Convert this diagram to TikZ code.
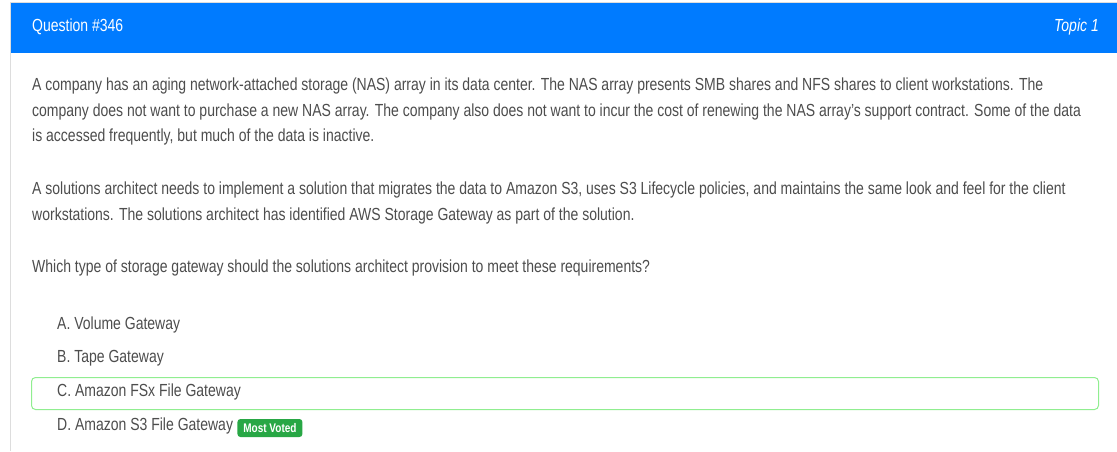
\documentclass[tikz,border=0pt]{standalone}
\usepackage{fontspec}
\setmainfont{Liberation Sans}[FakeStretch=0.80]
\definecolor{hdrblue}{HTML}{007BFF}
\definecolor{txt}{HTML}{4D4D4D}
\definecolor{cardline}{HTML}{DDDDDD}
\definecolor{okgreen}{HTML}{90EE90}
\definecolor{badgegreen}{HTML}{28A745}
\begin{document}
\begin{tikzpicture}[x=1pt,y=-1pt,
  body/.style={anchor=west,inner sep=0pt,text=txt,font=\fontsize{17.5}{18}\selectfont},
  hdr/.style={inner sep=0pt,text=white,font=\fontsize{17.5}{18}\selectfont}]
\useasboundingbox (0,0) rectangle (1117,451);
\fill[white] (0,0) rectangle (1117,451);
% card
\draw[cardline,line width=1pt] (10.5,451) -- (10.5,2.5) -- (1117,2.5);
\fill[hdrblue] (11,3) rectangle (1117,53);
\node[hdr,anchor=west] (q) at (32,27) {Question \#346};
\node[hdr,anchor=east,font=\fontsize{17.5}{18}\selectfont\itshape] (t) at (1099,27) {Topic 1};
% text
\node[body] (l1) at (32,86) {A company has an aging network-attached storage (NAS) array in its data center. The NAS array presents SMB shares and NFS shares to client workstations. The};
\node[body] (l2) at (32,112) {company does not want to purchase a new NAS array. The company also does not want to incur the cost of renewing the NAS array’s support contract. Some of the data};
\node[body] (l3) at (32,137) {is accessed frequently, but much of the data is inactive.};
\node[body] (l4) at (32,190) {A solutions architect needs to implement a solution that migrates the data to Amazon S3, uses S3 Lifecycle policies, and maintains the same look and feel for the client};
\node[body] (l5) at (32,216) {workstations. The solutions architect has identified AWS Storage Gateway as part of the solution.};
\node[body] (l6) at (32,268) {Which type of storage gateway should the solutions architect provision to meet these requirements?};
% options
\draw[okgreen,line width=1pt,rounded corners=4pt] (31.5,377.5) rectangle (1098.5,409.5);
\node[body] (a) at (57,325) {A. Volume Gateway};
\node[body] (b) at (57,358) {B. Tape Gateway};
\node[body] (c) at (57,392) {C. Amazon FSx File Gateway};
\node[body] (d) at (57,426) {D. Amazon S3 File Gateway};
\node[fill=badgegreen,rounded corners=3pt,text=white,inner sep=0pt,minimum width=65pt,minimum height=18pt,font=\fontsize{12.5}{13}\selectfont\bfseries,anchor=west] (mv) at ([xshift=4pt]d.east |- 0,428) {Most Voted};
\end{tikzpicture}
\end{document}
